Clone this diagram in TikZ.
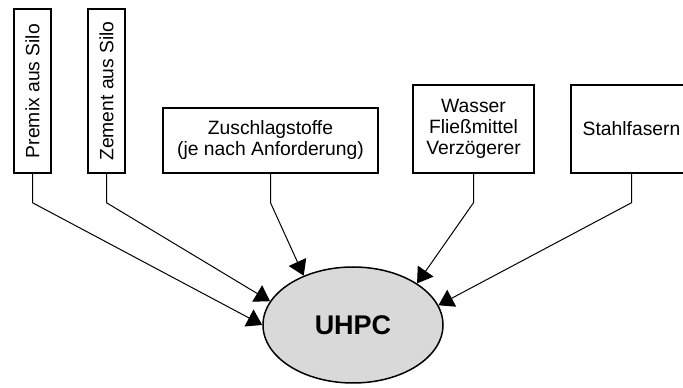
\documentclass[tikz,border=0pt]{standalone}
\usepackage{fontspec}
\setmainfont{Liberation Sans}
\usetikzlibrary{arrows.meta,shapes.geometric}

\tikzset{
  stoff/.style={draw,line width=1.5pt,align=center,inner sep=0pt},
  zufuhr/.style={-{Triangle[length=15pt,width=19pt]},line width=1pt},
}

\begin{document}
\begin{tikzpicture}[x=1pt,y=1pt,font=\fontsize{19.3}{21}\selectfont]
\useasboundingbox (0,0) rectangle (683,388);

% Ausgangsstoffe
\node [stoff,rotate=90,minimum width=164,minimum height=37] (premix)   at ( 32.5,297  ) {Premix aus Silo};
\node [stoff,rotate=90,minimum width=164,minimum height=37] (zement)   at (106.5,297  ) {Zement aus Silo};
\node [stoff,minimum width=215,minimum height=65]          (zuschlag) at (270.5,247.5) {Zuschlagstoffe\\(je nach Anforderung)};
\node [stoff,minimum width=121,minimum height=88]          (wasser)   at (473.5,259  ) {Wasser\\Fließmittel\\Verzögerer};
\node [stoff,minimum width=121,minimum height=88]          (stahl)    at (631.5,259  ) {Stahlfasern};

% Mischung
\node [ellipse,draw,line width=1.5pt,fill=gray!30,minimum width=180,minimum height=116,
       font=\fontsize{27}{30}\selectfont\bfseries] (uhpc) at (353,63) {UHPC};

\draw [zufuhr] (premix.west)    -- ++(0,-29) -- (uhpc.west);
\draw [zufuhr] (zement.west)    -- ++(0,-29) -- (uhpc.164);
\draw [zufuhr] (zuschlag.south) -- ++(0,-29) -- (uhpc.135);
\draw [zufuhr] (wasser.south)   -- ++(0,-29) -- (uhpc.33);
\draw [zufuhr] (stahl.south)    -- ++(0,-29) -- (uhpc.13);
\end{tikzpicture}
\end{document}
